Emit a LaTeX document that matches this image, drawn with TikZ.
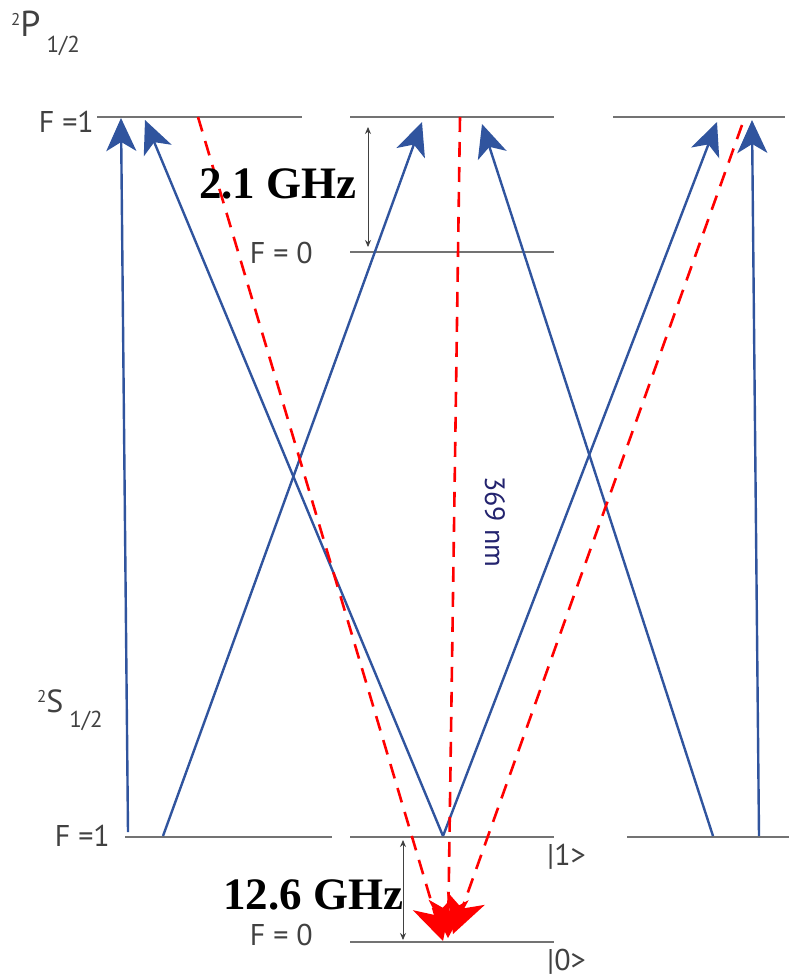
\documentclass[tikz,border=0pt]{standalone}
\usepackage{fontspec}
\setmainfont{PT Sans}
\newfontfamily\serifb{Liberation Serif}
\usetikzlibrary{arrows.meta}
\definecolor{myblue}{RGB}{48,84,158}
\definecolor{lvl}{RGB}{115,115,115}
\definecolor{txt}{RGB}{65,65,65}
\definecolor{navy}{RGB}{35,35,110}
\begin{document}
\begin{tikzpicture}[x=1pt,y=-1pt,
  level/.style={draw=lvl,line width=1.3pt},
  blu/.style={draw=myblue,line width=2.4pt,-{Stealth[length=33pt,width=30pt,inset=9pt]}},
  redd/.style={draw=red,line width=2.6pt,dash pattern=on 15pt off 10pt,-{Stealth[length=38pt,width=40pt,inset=11pt,fill=red]}},
  gap/.style={draw=txt,line width=0.9pt,{Stealth[length=7pt,width=6pt]}-{Stealth[length=7pt,width=6pt]}},
  lab/.style={text=txt,inner sep=0pt,font=\fontsize{30}{30}\selectfont},
  ghz/.style={inner sep=0pt,font=\serifb\bfseries\fontsize{45}{45}\selectfont}]
\path[use as bounding box] (0,0) rectangle (789,980);
% level lines
\coordinate (p1la) at (97,117);  \coordinate (p1lb) at (302,117);
\coordinate (p1ma) at (350,117); \coordinate (p1mb) at (554,117);
\coordinate (p1ra) at (613,117); \coordinate (p1rb) at (785,117);
\coordinate (p0ma) at (350,252); \coordinate (p0mb) at (554,252);
\coordinate (s1la) at (125,837); \coordinate (s1lb) at (332,837);
\coordinate (s1ma) at (350,837); \coordinate (s1mb) at (554,837);
\coordinate (s1ra) at (627,837); \coordinate (s1rb) at (789,837);
\coordinate (s0ma) at (350,942); \coordinate (s0mb) at (554,942);
\draw[level] (p1la) -- (p1lb);
\draw[level] (p1ma) -- (p1mb);
\draw[level] (p1ra) -- (p1rb);
\draw[level] (p0ma) -- (p0mb);
\draw[level] (s1la) -- (s1lb);
\draw[level] (s1ma) -- (s1mb);
\draw[level] (s1ra) -- (s1rb);
\draw[level] (s0ma) -- (s0mb);
% gap arrows
\coordinate (ga1) at (368,127); \coordinate (ga2) at (368,247);
\coordinate (gb1) at (403,840); \coordinate (gb2) at (403,940);
\draw[gap] (ga1) -- (ga2);
\draw[gap] (gb1) -- (gb2);
% blue transitions
\coordinate (b1s) at (128,832); \coordinate (b1e) at (121,118);
\coordinate (b2s) at (163,836); \coordinate (b2e) at (422,122);
\coordinate (vx)  at (443,836);
\coordinate (b3e) at (145,120);
\coordinate (b4e) at (717,122);
\coordinate (b5s) at (713,836); \coordinate (b5e) at (482,124);
\coordinate (b6s) at (759,836); \coordinate (b6e) at (752,120);
\draw[blu] (b1s) -- (b1e);
\draw[blu] (b2s) -- (b2e);
\draw[blu] (vx) -- (b3e);
\draw[blu] (vx) -- (b4e);
\draw[blu] (b5s) -- (b5e);
\draw[blu] (b6s) -- (b6e);
% red decays
\coordinate (r1s) at (198,117); \coordinate (r1e) at (443,941);
\coordinate (r2s) at (460,117); \coordinate (r2e) at (448,938);
\coordinate (r3s) at (742,125); \coordinate (r3e) at (453,934);
\draw[redd] (r1s) -- (r1e);
\draw[redd] (r2s) -- (r2e);
\draw[redd] (r3s) -- (r3e);
% labels
\node[anchor=base west,inner sep=0pt,text=txt] (plab) at (11,36)
  {\fontsize{17}{17}\selectfont\raisebox{11pt}{2}\fontsize{36}{36}\selectfont P\hspace{6pt}\fontsize{23}{23}\selectfont\raisebox{-16pt}{1/2}};
\node[anchor=base west,inner sep=0pt,text=txt] (slab) at (37,712)
  {\fontsize{17}{17}\selectfont\raisebox{10pt}{2}\fontsize{32}{32}\selectfont S\hspace{6pt}\fontsize{23}{23}\selectfont\raisebox{-15pt}{1/2}};
\node[lab,anchor=base east] (fp1) at (94,132) {F =1};
\node[lab,anchor=base east] (fp0) at (313,263) {F = 0};
\node[lab,anchor=base east] (fs1) at (110,846) {F =1};
\node[lab,anchor=base east] (fs0) at (313,945) {F = 0};
\node[lab,anchor=base west] (k1) at (547,865) {|1>};
\node[lab,anchor=base west] (k0) at (547,970) {|0>};
\node[ghz,anchor=base west] (g21) at (199,198) {2.1 GHz};
\node[ghz,anchor=base west] (g126) at (223,909) {12.6 GHz};
\node[inner sep=0pt,text=navy,rotate=-90,font=\fontsize{28}{28}\selectfont] (nm) at (495,522) {369 nm};
\end{tikzpicture}
\end{document}
